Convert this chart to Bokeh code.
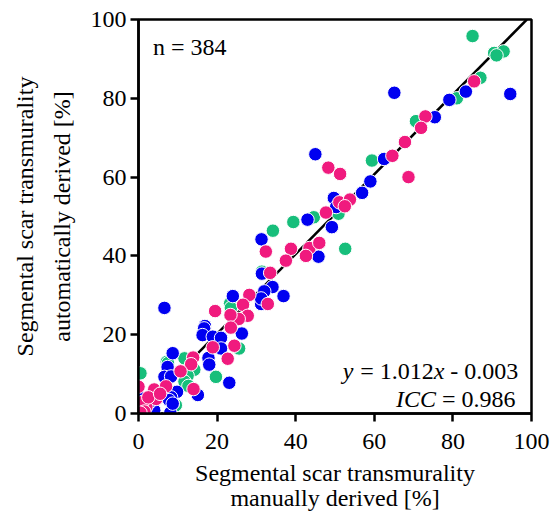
from bokeh.plotting import figure
from bokeh.models import Range1d, FixedTicker, Label, Slope, ColumnDataSource
from bokeh.embed import file_html
from bokeh.resources import INLINE

# ---- data (manual %, automatic %) ----
green_x = [85.0, 90.5, 92.9, 91.1, 87.0, 81.0, 70.6, 59.4, 52.6, 50.9, 44.6, 39.4, 34.2,
           31.4, 23.3, 23.5, 25.6, 19.7, 14.2, 12.5, 11.7, 12.7, 11.7, 7.2, 0.5, 9.5, 8.7,
           7.5, 1.5, 3.0]
green_y = [95.8, 91.5, 91.9, 90.9, 85.2, 80.0, 74.2, 64.2, 41.8, 50.7, 49.8, 48.6, 46.4,
           36.0, 27.9, 26.8, 16.5, 9.3, 11.1, 9.6, 8.1, 7.0, 14.0, 13.1, 10.2, 2.1, 2.5,
           12.8, 0.3, 0.5]

blue_x = [65.1, 94.6, 83.3, 79.1, 75.4, 62.5, 59.0, 56.9, 45.0, 49.7, 50.3, 43.0, 49.2,
          45.8, 31.3, 31.4, 34.1, 32.0, 36.9, 31.2, 31.2, 24.0, 16.9, 26.3, 16.7, 16.3,
          18.9, 21.0, 21.0, 17.8, 18.0, 23.1, 6.6, 8.7, 7.4, 6.6, 8.3, 15.1, 9.8, 8.3,
          7.8, 8.1, 8.7, 1.0, 2.5, 0.3, 4.0, 3.0]
blue_y = [81.4, 81.1, 81.7, 79.6, 75.2, 64.6, 58.9, 56.0, 65.8, 54.7, 52.4, 49.2, 47.3,
          39.8, 44.2, 35.5, 32.1, 31.0, 29.8, 27.8, 29.2, 29.8, 22.2, 20.3, 21.6, 19.9,
          19.5, 19.2, 16.5, 14.1, 12.4, 7.8, 26.8, 15.3, 11.8, 9.3, 9.4, 4.7, 5.5, 4.1,
          3.4, 0.2, 2.5, 0.5, 1.0, 4.0, 0.8, 3.0]

pink_x = [85.4, 73.0, 71.9, 67.8, 64.6, 68.7, 48.3, 51.3, 51.1, 53.8, 52.5, 47.7, 38.8,
          43.5, 46.0, 42.6, 32.4, 37.5, 33.5, 32.9, 28.2, 26.6, 27.8, 25.5, 23.4, 23.5,
          19.5, 18.9, 22.7, 24.4, 13.9, 13.4, 10.7, 14.0, 0.0, 4.0, 7.0, 0.0, 2.0, 1.0,
          4.5, 2.5, 5.5, 1.5, 0.5]
pink_y = [84.3, 75.4, 72.5, 68.9, 65.4, 60.0, 62.4, 60.8, 53.6, 54.3, 52.6, 51.0, 41.8,
          42.0, 43.3, 40.0, 41.1, 38.8, 35.7, 27.8, 30.1, 27.6, 24.8, 24.0, 25.0, 21.8,
          26.0, 16.8, 13.9, 17.2, 14.2, 12.5, 10.7, 6.2, 6.8, 6.1, 6.9, 1.6, 1.7, 2.9,
          3.7, 4.1, 5.0, 0.5, 0.2]

ticks = [0, 20, 40, 60, 80, 100]
n_text = "n = 384"
x_title = "Segmental scar transmurality\nmanually derived [%]"
y_title = "Segmental scar transmurality\nautomatically derived [%]"
slope_val = 1.012
intercept_val = -0.003

GREEN = "#17BE7B"
BLUE = "#0000F0"
PINK = "#F01A7E"
FONT = "Liberation Serif"

p = figure(width=550, height=516, output_backend="svg", toolbar_location=None,
           x_range=Range1d(0, 100), y_range=Range1d(0, 100),
           min_border_left=138, min_border_right=19, min_border_top=19,
           min_border_bottom=103)
p.grid.visible = False
p.background_fill_color = "white"
p.border_fill_color = "white"
p.outline_line_color = "black"
p.outline_line_width = 2.5
p.outline_line_alpha = 1.0

for ax in (p.xaxis[0], p.yaxis[0]):
    ax.ticker = FixedTicker(ticks=ticks)
    ax.axis_line_width = 2.5
    ax.axis_line_color = "black"
    ax.major_tick_line_width = 2.5
    ax.major_tick_line_color = "black"
    ax.major_tick_out = 8
    ax.major_tick_in = 0
    ax.minor_tick_out = 0
    ax.minor_tick_in = 0
    ax.major_label_text_font = FONT
    ax.major_label_text_font_size = "24px"
    ax.major_label_text_color = "black"
    ax.axis_label_text_font = FONT
    ax.axis_label_text_font_size = "24px"
    ax.axis_label_text_font_style = "normal"
    ax.axis_label_text_color = "black"
p.xaxis[0].major_label_standoff = 12
p.yaxis[0].major_label_standoff = 4
p.xaxis[0].axis_label = x_title
p.yaxis[0].axis_label = y_title
p.xaxis[0].axis_label_text_line_height = 0.98
p.yaxis[0].axis_label_text_line_height = 1.4
p.xaxis[0].axis_label_standoff = 8
p.yaxis[0].axis_label_standoff = 13

line = Slope(gradient=slope_val, y_intercept=intercept_val, line_color="black",
             line_width=2.5, level="underlay")
p.add_layout(line)

for xs, ys, col in ((green_x, green_y, GREEN), (blue_x, blue_y, BLUE), (pink_x, pink_y, PINK)):
    src = ColumnDataSource(dict(x=xs, y=ys))
    p.scatter("x", "y", source=src, size=13.5, fill_color=col, line_color="white",
              line_width=1)

def lab(x, y, text, style="normal"):
    p.add_layout(Label(x=x, y=y, text=text, text_font=FONT, text_font_size="24px",
                       text_font_style=style, text_align="left",
                       text_baseline="alphabetic", text_color="black"))

# annotations
lab(3.7, 93.0, n_text)
lab(52.0, 10.66, "y", "italic")
lab(56.4, 10.66, "= 1.012")
lab(75.1, 10.66, "x", "italic")
lab(79.3, 10.66, "- 0.003")
lab(65.5, 3.8, "ICC", "italic")
lab(77.2, 3.8, "= 0.986")

open("out.html", "w").write(file_html(p, INLINE))
